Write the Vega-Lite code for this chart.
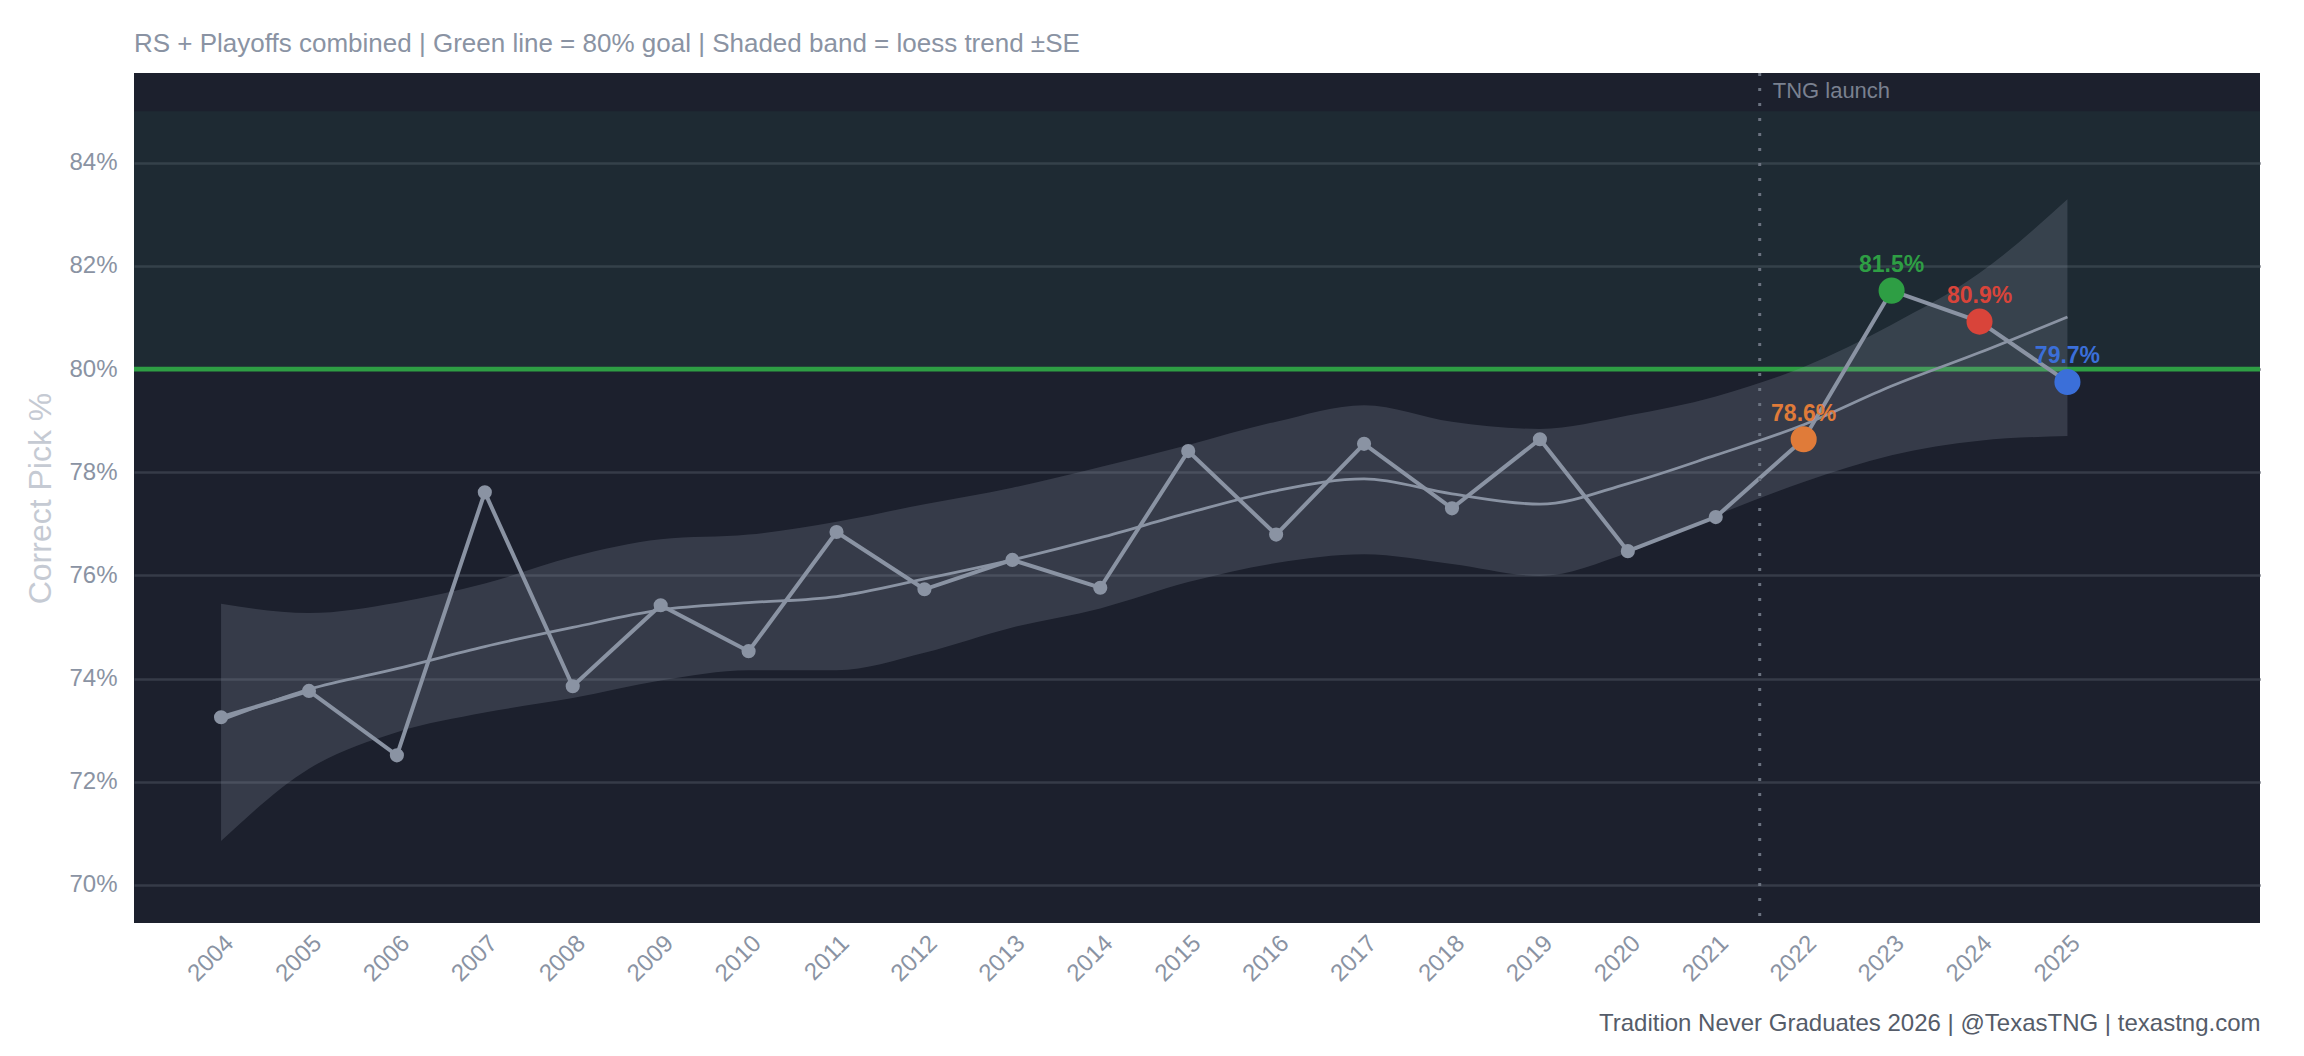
{
  "$schema": "https://vega.github.io/schema/vega-lite/v6.json",
  "width": 2126,
  "height": 850,
  "autosize": {"type": "none"},
  "padding": {"left": 134, "top": 73, "right": 44, "bottom": 133},
  "background": "#ffffff",
  "config": {
    "font": "Liberation Sans",
    "view": {"fill": "#1c202d", "stroke": null}
  },
  "title": {
    "text": "RS + Playoffs combined | Green line = 80% goal | Shaded band = loess trend ±SE",
    "anchor": "start",
    "frame": "group",
    "fontSize": 26,
    "fontWeight": "normal",
    "color": "#8a93a3",
    "offset": 15
  },
  "datasets": {
    "seasons": [
      {"year": 2004, "pct": 73.25, "fit": 73.19, "lo": 70.85, "hi": 75.45, "season": "other", "label": ""},
      {"year": 2005, "pct": 73.76, "fit": 73.79, "lo": 72.25, "hi": 75.27, "season": "other", "label": ""},
      {"year": 2006, "pct": 72.51, "fit": 74.19, "lo": 72.96, "hi": 75.47, "season": "other", "label": ""},
      {"year": 2007, "pct": 77.61, "fit": 74.62, "lo": 73.34, "hi": 75.84, "season": "other", "label": ""},
      {"year": 2008, "pct": 73.85, "fit": 74.99, "lo": 73.62, "hi": 76.36, "season": "other", "label": ""},
      {"year": 2009, "pct": 75.42, "fit": 75.33, "lo": 73.96, "hi": 76.70, "season": "other", "label": ""},
      {"year": 2010, "pct": 74.53, "fit": 75.47, "lo": 74.16, "hi": 76.79, "season": "other", "label": ""},
      {"year": 2011, "pct": 76.84, "fit": 75.59, "lo": 74.16, "hi": 77.04, "season": "other", "label": ""},
      {"year": 2012, "pct": 75.73, "fit": 75.93, "lo": 74.50, "hi": 77.38, "season": "other", "label": ""},
      {"year": 2013, "pct": 76.30, "fit": 76.30, "lo": 74.99, "hi": 77.70, "season": "other", "label": ""},
      {"year": 2014, "pct": 75.76, "fit": 76.73, "lo": 75.36, "hi": 78.10, "season": "other", "label": ""},
      {"year": 2015, "pct": 78.41, "fit": 77.21, "lo": 75.87, "hi": 78.53, "season": "other", "label": ""},
      {"year": 2016, "pct": 76.79, "fit": 77.64, "lo": 76.24, "hi": 78.98, "season": "other", "label": ""},
      {"year": 2017, "pct": 78.55, "fit": 77.87, "lo": 76.41, "hi": 79.30, "season": "other", "label": ""},
      {"year": 2018, "pct": 77.30, "fit": 77.58, "lo": 76.22, "hi": 78.98, "season": "other", "label": ""},
      {"year": 2019, "pct": 78.64, "fit": 77.38, "lo": 75.99, "hi": 78.84, "season": "other", "label": ""},
      {"year": 2020, "pct": 76.47, "fit": 77.78, "lo": 76.44, "hi": 79.10, "season": "other", "label": ""},
      {"year": 2021, "pct": 77.13, "fit": 78.33, "lo": 77.16, "hi": 79.47, "season": "other", "label": ""},
      {"year": 2022, "pct": 78.64, "fit": 78.92, "lo": 77.81, "hi": 80.04, "season": "2022", "label": "78.6%"},
      {"year": 2023, "pct": 81.52, "fit": 79.67, "lo": 78.33, "hi": 80.86, "season": "2023", "label": "81.5%"},
      {"year": 2024, "pct": 80.92, "fit": 80.32, "lo": 78.61, "hi": 81.86, "season": "2024", "label": "80.9%"},
      {"year": 2025, "pct": 79.75, "fit": 81.01, "lo": 78.70, "hi": 83.29, "season": "2025", "label": "79.7%"}
    ]
  },
  "encoding": {
    "x": {
      "field": "year",
      "type": "quantitative",
      "scale": {"domain": [2003.01, 2027.19], "nice": false, "zero": false},
      "axis": {
        "values": [2004, 2005, 2006, 2007, 2008, 2009, 2010, 2011, 2012, 2013, 2014, 2015, 2016, 2017, 2018, 2019, 2020, 2021, 2022, 2023, 2024, 2025],
        "format": "d",
        "labelAngle": -45,
        "labelAlign": "right",
        "labelBaseline": "top",
        "labelPadding": 8,
        "labelFontSize": 24,
        "labelColor": "#8a93a3",
        "labelFlush": false,
        "labelOverlap": false,
        "ticks": false,
        "domain": false,
        "grid": false,
        "title": "Tradition Never Graduates 2026 | @TexasTNG | texastng.com",
        "titleAnchor": "end",
        "titleAlign": "right",
        "titleFontSize": 24,
        "titleFontWeight": "normal",
        "titleColor": "#555c69",
        "titlePadding": 26
      }
    }
  },
  "layer": [
    {
      "data": {"values": [{"lo": 80, "hi": 85}]},
      "mark": {"type": "rect", "fill": "#306355", "fillOpacity": 0.15},
      "encoding": {
        "x": null,
        "y": {"field": "lo", "type": "quantitative", "scale": {"domain": [69.26, 85.74], "nice": false, "zero": false},
          "axis": {
            "values": [70, 72, 74, 76, 78, 80, 82, 84],
            "labelExpr": "datum.value + '%'",
            "labelFontSize": 24,
            "labelColor": "#8a93a3",
            "labelPadding": 17,
            "ticks": false,
            "domain": false,
            "grid": true,
            "gridColor": "#363b48",
            "gridWidth": 2.5,
            "title": "Correct Pick %",
            "titleFontSize": 32,
            "titleFontWeight": "normal",
            "titleColor": "#c5cad3",
            "titlePadding": 11
          }
        },
        "y2": {"field": "hi"}
      }
    },
    {
      "data": {"values": [{"goal": 80}]},
      "mark": {"type": "rule", "stroke": "#2e9e44", "strokeWidth": 4.7},
      "encoding": {"x": null, "y": {"field": "goal", "type": "quantitative"}}
    },
    {
      "data": {"name": "seasons"},
      "mark": {"type": "area", "fill": "#8a93a3", "fillOpacity": 0.24, "interpolate": "monotone"},
      "encoding": {"y": {"field": "lo", "type": "quantitative"}, "y2": {"field": "hi"}}
    },
    {
      "data": {"name": "seasons"},
      "mark": {"type": "line", "stroke": "#8a93a3", "strokeWidth": 2.8, "interpolate": "monotone"},
      "encoding": {"y": {"field": "fit", "type": "quantitative"}}
    },
    {
      "data": {"name": "seasons"},
      "mark": {"type": "line", "stroke": "#8a93a3", "strokeWidth": 4},
      "encoding": {"y": {"field": "pct", "type": "quantitative"}}
    },
    {
      "data": {"name": "seasons"},
      "transform": [{"filter": "datum.season == 'other'"}],
      "mark": {"type": "circle", "fill": "#8a93a3", "opacity": 1, "size": 200},
      "encoding": {"y": {"field": "pct", "type": "quantitative"}}
    },
    {
      "data": {"name": "seasons"},
      "transform": [{"filter": "datum.season != 'other'"}],
      "mark": {"type": "circle", "opacity": 1, "size": 680},
      "encoding": {
        "y": {"field": "pct", "type": "quantitative"},
        "color": {"field": "season", "type": "nominal",
          "scale": {"domain": ["2022", "2023", "2024", "2025"], "range": ["#e07b39", "#2e9e44", "#d9443a", "#3b6fd9"]},
          "legend": null}
      }
    },
    {
      "data": {"name": "seasons"},
      "transform": [{"filter": "datum.season != 'other'"}],
      "mark": {"type": "text", "fontSize": 23, "fontWeight": "bold", "align": "center", "baseline": "alphabetic", "dy": -18.5},
      "encoding": {
        "y": {"field": "pct", "type": "quantitative"},
        "text": {"field": "label"},
        "color": {"field": "season", "type": "nominal", "legend": null}
      }
    },
    {
      "data": {"values": [{"launch": 2021.5, "top": 85.74, "bottom": 69.26, "ty": 85.39, "txt": "TNG launch"}]},
      "layer": [
        {
          "mark": {"type": "rule", "stroke": "#6b7280", "strokeWidth": 3, "strokeDash": [3, 12]},
          "encoding": {"x": {"field": "launch", "type": "quantitative"}, "y": {"field": "top", "type": "quantitative"}, "y2": {"field": "bottom"}}
        },
        {
          "mark": {"type": "text", "align": "left", "baseline": "middle", "dx": 13, "fontSize": 22, "color": "#7a8190"},
          "encoding": {"x": {"field": "launch", "type": "quantitative"}, "y": {"field": "ty", "type": "quantitative"}, "text": {"field": "txt"}}
        }
      ]
    }
  ]
}
